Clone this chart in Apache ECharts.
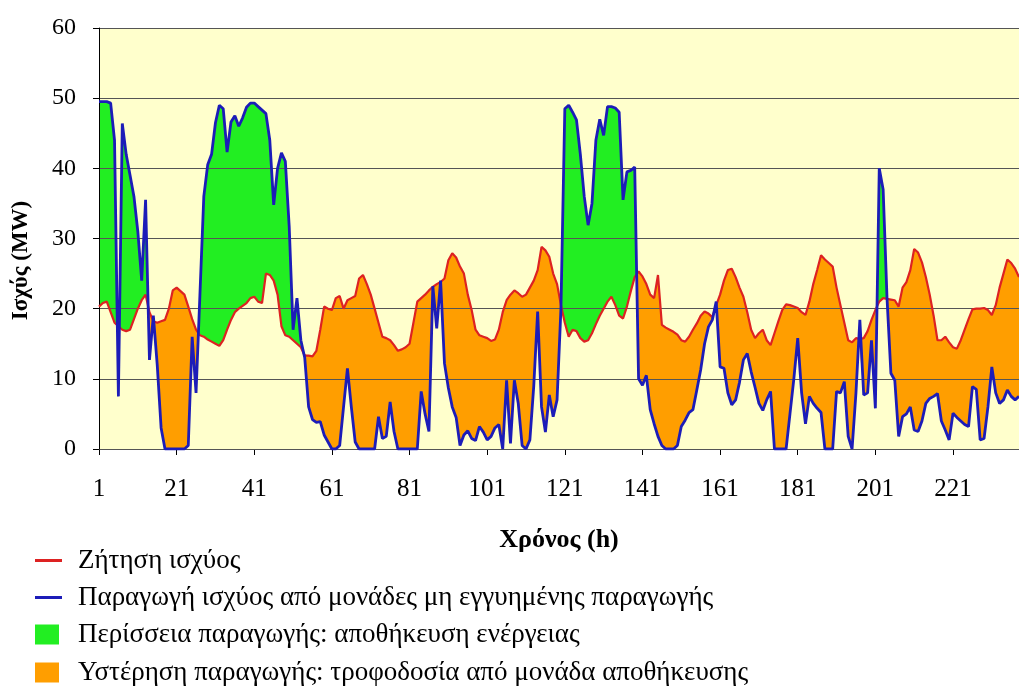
<!DOCTYPE html>
<html>
<head>
<meta charset="utf-8">
<script src="https://cdn.jsdelivr.net/npm/echarts@6/dist/echarts.min.js"></script>
<style>html,body{margin:0;padding:0;background:#fff}#c{width:1019px;height:689px}</style>
</head>
<body>
<div id="c"></div>
<script>
// Hour labels shown on the x axis
const xTickLabels = ['1','21','41','61','81','101','121','141','161','181','201','221'];

// Power demand (MW), hours 1..238
const demand = [20.3,20.8,21,19.5,18,17.5,17,16.8,17,18.5,
20,21.2,22,19.5,18.2,18,18.2,18.4,20,22.6,
23,22.5,22,20.3,18.5,17,16.2,16,15.6,15.3,
15,14.7,15.5,17,18.4,19.5,20,20.4,20.8,21.5,
21.7,21,20.8,25,24.8,24,22,17.5,16.2,16,
15.5,15,14.5,13.3,13.3,13.2,14,17,20.3,20,
19.8,21.5,21.8,20,21.2,21.5,21.8,24.3,24.8,23.5,
22,20,18,16,15.8,15.5,14.8,14,14.2,14.5,
15,18,21,21.5,22,22.6,23.1,23.5,23.8,24.3,
26.9,27.9,27.3,26,25,22,19.8,17,16.2,16,
15.8,15.4,15.6,17,19.5,21.2,22,22.6,22.2,21.7,
22,23,24,25.5,28.8,28.3,27.4,25,23.5,20.5,
18,16,17,16.8,15.8,15.3,15.5,16.5,17.8,19,
20,21,21.7,20.5,19,18.6,20.3,22.5,24.5,25.3,
24.6,23.5,22,21.5,24.8,17.7,17.3,17,16.7,16.3,
15.5,15.3,16,17,17.9,19,19.6,19.3,18.8,20.5,
22,24,25.5,25.7,24.5,23,21.7,19.5,17,15.8,
16.5,17,15.5,14.8,16.5,18.2,19.8,20.6,20.5,20.3,
20.1,19.5,19.1,21,23.5,25.5,27.6,27,26.5,26,
23,20.5,18,15.5,15.2,15.8,15.7,15.8,16.8,18.4,
19.8,21,21.5,21.4,21.3,21.2,20.3,23,23.8,25.5,
28.5,28,26.6,24.5,22,19,15.5,15.5,16,15.2,
14.5,14.3,15.5,17,18.5,19.9,20,20,20.1,19.8,
19.1,20.5,23,25,27,26.5,25.7,24.5];

// Non-guaranteed production (MW), hours 1..238
const supply = [49.5,49.5,49.5,49.3,44,7.5,46.4,42,39,36,
31,24,35.5,12.7,19,12,3,0,0,0,
0,0,0,0.5,16,8,22,36,40.5,42,
46.5,49,48.5,42.3,46.6,47.5,46,47.2,48.7,49.3,
49.3,48.8,48.3,47.8,44,34.8,40,42.2,41,31.7,
17,21.5,15.5,13,6,4.2,3.8,3.9,2,1,
0,0,0.5,6,11.5,6,1,0,0,0,
0,0,4.6,1.5,1.8,6.7,2.5,0,0,0,
0,0,0,8.2,5,2.5,23.2,17.2,24,12.2,
8.7,6,4.5,0.5,2,2.6,1.5,1.2,3.2,2.4,
1.3,1.8,3,3.5,0,9.8,0.8,9.8,6.5,0.5,
0,1.3,9,19.6,6,2.4,7.7,4.6,7,20,
48.5,49,48,46.9,42,36,31.9,35,44,47,
44.7,48.8,48.8,48.6,48,35.5,39.5,39.7,40.2,10,
9.1,10.5,5.6,3.6,1.8,0.5,0,0,0,0.5,
3.2,4.1,5.2,5.6,8.4,11.3,15,17.4,18.4,21,
11.7,11.5,8,6.3,7,9.5,12.7,13.6,11,8.8,
6.5,5.5,7,8.2,0,0,0,0,5,10,
15.8,8,3.6,7.5,6.5,5.8,5.2,0,0,0,
8.2,8,9.6,1.8,0,8,18.4,7.7,8,15.5,
5.8,40,37,21.5,10.8,9.8,1.8,4.6,5,6,
2.7,2.5,4,6.5,7.2,7.5,7.9,4,2.7,1.3,
5.1,4.5,4,3.5,3.2,8.9,8.5,1.3,1.5,6,
11.7,8,6.5,7,8.4,7.5,7,7.5];

const NAME_DEMAND = 'Ζήτηση ισχύος';
const NAME_SUPPLY = 'Παραγωγή ισχύος από μονάδες μη εγγυημένης παραγωγής';
const NAME_SURPLUS = 'Περίσσεια παραγωγής: αποθήκευση ενέργειας';
const NAME_DEFICIT = 'Υστέρηση παραγωγής: τροφοδοσία από μονάδα αποθήκευσης';

const PLOT_BG = '#FFFFCC';
const GREEN = '#22EE22';
const ORANGE = '#FF9E00';
const RED = '#DD2222';
const BLUE = '#1C1CB8';

// Insert the crossing points of the two curves so that the fills are exact
const pts = [];
for (let i = 0; i < demand.length; i++) {
  pts.push({ x: i, r: demand[i], b: supply[i] });
  if (i < demand.length - 1) {
    const d0 = supply[i] - demand[i], d1 = supply[i + 1] - demand[i + 1];
    if (d0 * d1 < 0) {
      const t = d0 / (d0 - d1);
      const r = demand[i] + t * (demand[i + 1] - demand[i]);
      pts.push({ x: i + t, r: r, b: r });
    }
  }
}
const supplyAug = pts.map(p => [p.x, p.b]);
const demandAug = pts.map(p => [p.x, p.r]);
const minAug = pts.map(p => [p.x, Math.min(p.r, p.b)]);
const demandData = demand.map((v, i) => [i, v]);
const supplyData = supply.map((v, i) => [i, v]);

const FONT = 'Liberation Serif';
const chart = echarts.init(document.getElementById('c'), null, { renderer: 'canvas' });
chart.setOption({
  backgroundColor: '#ffffff',
  animation: false,
  grid: { left: 99, right: 0, top: 28, bottom: 240, show: true, backgroundColor: PLOT_BG, borderWidth: 0 },
  xAxis: {
    type: 'value', min: 0, max: demand.length - 1, interval: 20,
    name: 'Χρόνος (h)', nameLocation: 'middle', nameGap: 78,
    nameTextStyle: { fontFamily: FONT, fontSize: 26, fontWeight: 'bold', color: '#000' },
    axisLine: { show: true, lineStyle: { color: '#000', width: 1 } },
    axisTick: { show: true, length: 6, lineStyle: { color: '#000' } },
    axisLabel: {
      margin: 28, fontFamily: FONT, fontSize: 25, color: '#000', showMaxLabel: false,
      formatter: v => (v % 20 === 0 ? xTickLabels[v / 20] : '')
    },
    splitLine: { show: false }
  },
  yAxis: {
    type: 'value', min: 0, max: 60, interval: 10, z: 3,
    name: 'Ισχύς (MW)', nameLocation: 'middle', nameGap: 66,
    nameTextStyle: { fontFamily: FONT, fontSize: 23, fontWeight: 'bold', color: '#000', padding: [0, 44, 0, 0] },
    axisLine: { show: true, lineStyle: { color: '#000', width: 1 } },
    axisTick: { show: true, length: 6, lineStyle: { color: '#000' } },
    axisLabel: { margin: 23, fontFamily: FONT, fontSize: 24, color: '#000' },
    splitLine: { show: true, lineStyle: { color: '#555', width: 1 } }
  },
  legend: [
    {
      orient: 'vertical', left: 35, top: 547, height: 120, padding: 0,
      itemWidth: 27, itemHeight: 3, itemGap: 10, icon: 'rect',
      textStyle: { fontFamily: FONT, fontSize: 27, color: '#000', padding: [0, 0, 0, 11] },
      data: [NAME_DEMAND, NAME_SUPPLY]
    },
    {
      orient: 'vertical', left: 35, top: 621, height: 120, padding: 0,
      itemWidth: 24, itemHeight: 20, itemGap: 11, icon: 'rect',
      textStyle: { fontFamily: FONT, fontSize: 27, color: '#000', padding: [0, 0, 0, 14] },
      data: [NAME_SURPLUS, NAME_DEFICIT]
    }
  ],
  series: [
    // Green: everything under production
    { name: NAME_SURPLUS, type: 'line', data: supplyAug, symbol: 'none',
      color: GREEN, itemStyle: { color: GREEN },
      lineStyle: { width: 0, opacity: 0 }, areaStyle: { color: GREEN, opacity: 1 }, z: 1 },
    // Orange: everything under demand (covers green below demand)
    { name: NAME_DEFICIT, type: 'line', data: demandAug, symbol: 'none',
      color: ORANGE, itemStyle: { color: ORANGE },
      lineStyle: { width: 0, opacity: 0 }, areaStyle: { color: ORANGE, opacity: 1 }, z: 1.2 },
    // Plot background under the lower of the two curves
    { name: 'mask', type: 'line', data: minAug, symbol: 'none', silent: true,
      lineStyle: { width: 0, opacity: 0 }, areaStyle: { color: PLOT_BG, opacity: 1 }, z: 1.4 },
    { name: NAME_DEMAND, type: 'line', data: demandData, symbol: 'none',
      color: RED, itemStyle: { color: RED },
      lineStyle: { color: RED, width: 2.2 }, z: 5 },
    { name: NAME_SUPPLY, type: 'line', data: supplyData, symbol: 'none',
      color: BLUE, itemStyle: { color: BLUE },
      lineStyle: { color: BLUE, width: 2.8 }, z: 6 }
  ]
});
</script>
</body>
</html>
